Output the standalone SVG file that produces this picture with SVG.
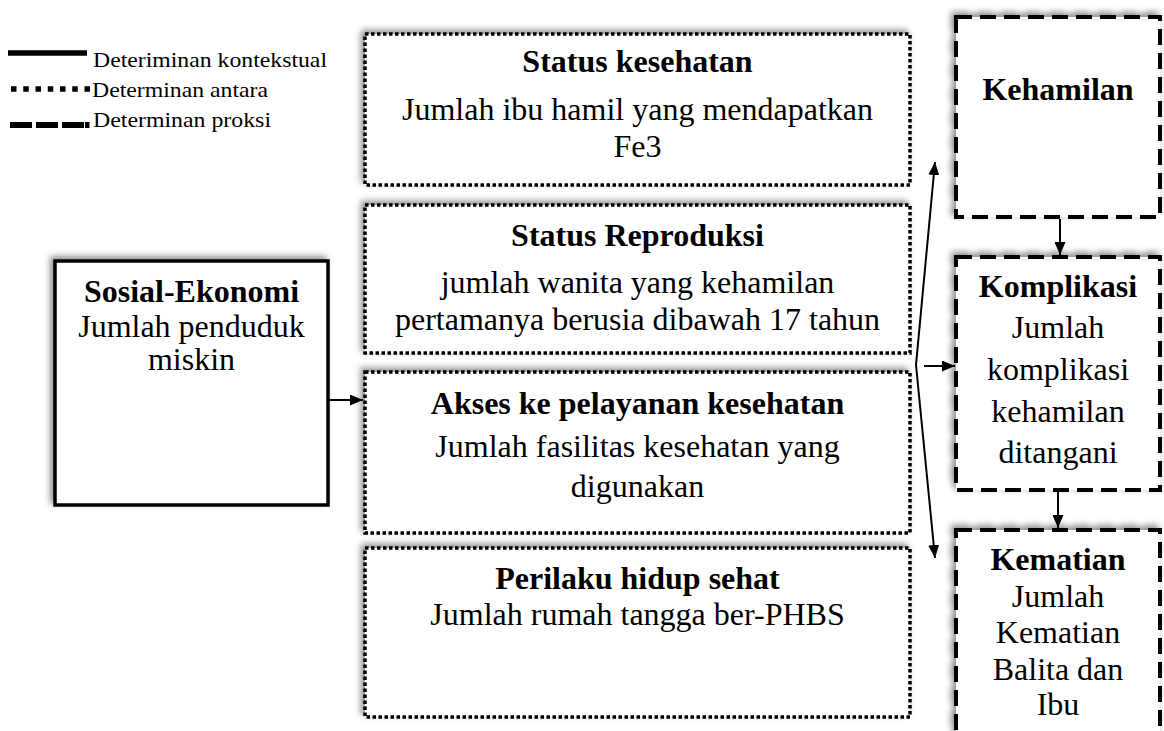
<svg xmlns="http://www.w3.org/2000/svg" width="1164" height="731" viewBox="0 0 1164 731">
<style>
  text { font-family: "Liberation Serif", "Times New Roman", serif; fill: #000; }
  .t { font-size: 32px; text-anchor: middle; }
  .b { font-weight: bold; }
  .leg { font-size: 21px; }
  .solid { fill: #fff; stroke: #000; stroke-width: 3.5; }
  .dot { fill: #fff; stroke: #000; stroke-width: 3.5; stroke-dasharray: 3.5 2.5; }
  .dash { fill: #fff; stroke: #000; stroke-width: 4; stroke-dasharray: 16 8; }
  .con { stroke: #000; stroke-width: 2; fill: none; marker-end: url(#arr); }
</style>
<defs>
  <filter id="sh" x="-10%" y="-10%" width="120%" height="120%">
    <feDropShadow dx="-3" dy="-3" stdDeviation="3" flood-color="#000" flood-opacity="0.45"/>
  </filter>
  <marker id="arr" viewBox="0 0 13 11" refX="13" refY="5.5" markerWidth="13" markerHeight="11" markerUnits="userSpaceOnUse" orient="auto">
    <path d="M0,0 L13,5.5 L0,11 z" fill="#000"/>
  </marker>
</defs>
<rect width="1164" height="731" fill="#fff"/>

<g id="legend">
  <line x1="8" y1="53" x2="87" y2="53" stroke="#000" stroke-width="5.5"/>
  <text class="leg" x="93" y="67" textLength="234" lengthAdjust="spacingAndGlyphs">Deteriminan kontekstual</text>
  <line x1="11" y1="89" x2="91" y2="89" stroke="#000" stroke-width="5.5" stroke-dasharray="5.5 6.75"/>
  <text class="leg" x="92" y="97" textLength="176" lengthAdjust="spacingAndGlyphs">Determinan antara</text>
  <line x1="10" y1="125" x2="84" y2="125" stroke="#000" stroke-width="6" stroke-dasharray="22 4"/>
  <line x1="85" y1="125" x2="89.5" y2="125" stroke="#000" stroke-width="6"/>
  <text class="leg" x="93" y="127" textLength="178" lengthAdjust="spacingAndGlyphs">Determinan proksi</text>
</g>

<g id="sosial-ekonomi">
  <rect class="solid" x="55" y="261" width="273" height="244" filter="url(#sh)"/>
  <text class="t b" x="191.5" y="302">Sosial-Ekonomi</text>
  <text class="t" x="191.5" y="337">Jumlah penduduk</text>
  <text class="t" x="191.5" y="370">miskin</text>
</g>

<g id="status-kesehatan">
  <rect class="dot" x="365" y="34" width="545" height="151" filter="url(#sh)"/>
  <text class="t b" x="637.5" y="72">Status kesehatan</text>
  <text class="t" x="637.5" y="120">Jumlah ibu hamil yang mendapatkan</text>
  <text class="t" x="637.5" y="157">Fe3</text>
</g>

<g id="status-reproduksi">
  <rect class="dot" x="365" y="205" width="545" height="148" filter="url(#sh)"/>
  <text class="t b" x="637.5" y="246">Status Reproduksi</text>
  <text class="t" x="637.5" y="293">jumlah wanita yang kehamilan</text>
  <text class="t" x="637.5" y="330">pertamanya berusia dibawah 17 tahun</text>
</g>

<g id="akses">
  <rect class="dot" x="365" y="372" width="545" height="161" filter="url(#sh)"/>
  <text class="t b" x="637.5" y="414">Akses ke pelayanan kesehatan</text>
  <text class="t" x="637.5" y="457">Jumlah fasilitas kesehatan yang</text>
  <text class="t" x="637.5" y="497">digunakan</text>
</g>

<g id="perilaku">
  <rect class="dot" x="365" y="548" width="545" height="169" filter="url(#sh)"/>
  <text class="t b" x="637.5" y="589">Perilaku hidup sehat</text>
  <text class="t" x="637.5" y="625">Jumlah rumah tangga ber-PHBS</text>
</g>

<g id="kehamilan">
  <rect class="dash" x="956" y="17" width="204" height="200" filter="url(#sh)"/>
  <text class="t b" x="1058" y="100">Kehamilan</text>
</g>

<g id="komplikasi">
  <rect class="dash" x="956" y="257" width="204" height="233" filter="url(#sh)"/>
  <text class="t b" x="1058" y="297">Komplikasi</text>
  <text class="t" x="1058" y="338">Jumlah</text>
  <text class="t" x="1058" y="380">komplikasi</text>
  <text class="t" x="1058" y="422">kehamilan</text>
  <text class="t" x="1058" y="463">ditangani</text>
</g>

<g id="kematian">
  <rect class="dash" x="956" y="530" width="204" height="220" filter="url(#sh)"/>
  <text class="t b" x="1058" y="570">Kematian</text>
  <text class="t" x="1058" y="607">Jumlah</text>
  <text class="t" x="1058" y="643">Kematian</text>
  <text class="t" x="1058" y="680">Balita dan</text>
  <text class="t" x="1058" y="715">Ibu</text>
</g>

<g id="connectors">
  <line class="con" x1="328" y1="400" x2="363" y2="400"/>
  <line class="con" x1="916" y1="365" x2="935" y2="162"/>
  <line class="con" x1="916" y1="365" x2="935" y2="558"/>
  <line class="con" x1="924" y1="366" x2="955" y2="366"/>
  <line class="con" x1="1060" y1="219" x2="1060" y2="255"/>
  <line class="con" x1="1058" y1="492" x2="1058" y2="528"/>
</g>
</svg>
